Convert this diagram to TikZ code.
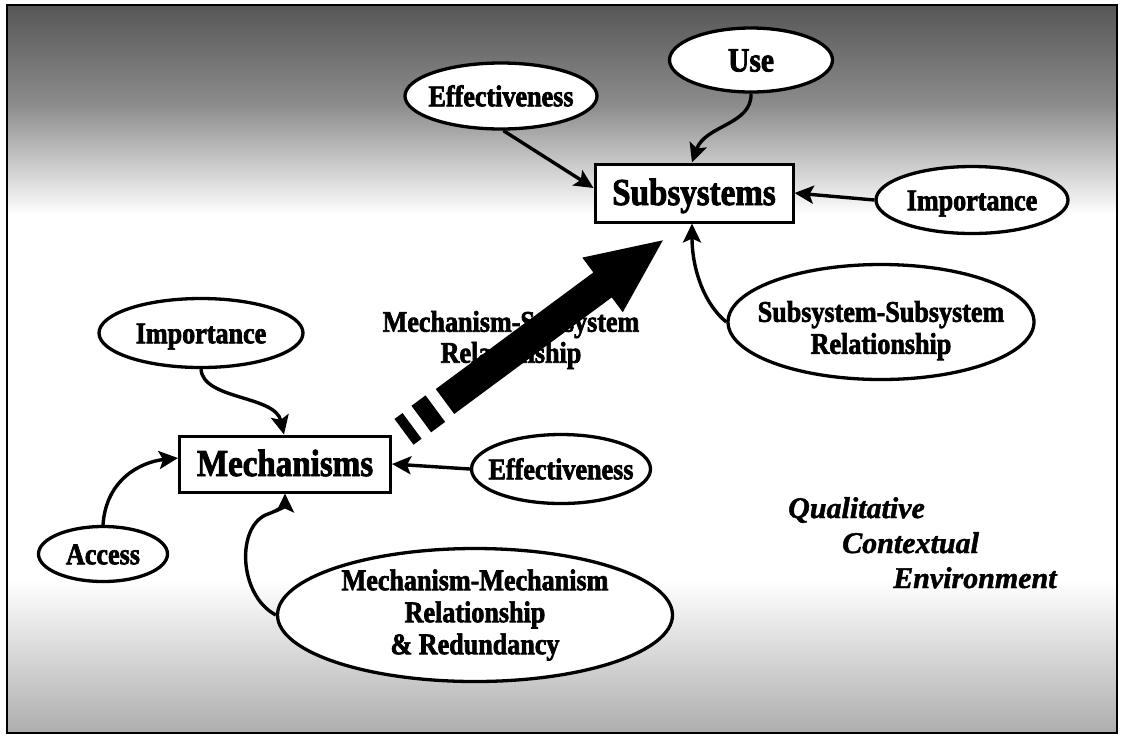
\documentclass[tikz,border=0pt]{standalone}
\usepackage{fontspec}
\setmainfont{Liberation Serif}
\newfontfamily\condfont{Liberation Serif}[FakeStretch=0.87, FakeBold=2.2]
\newfontfamily\ctxfont{Liberation Serif}[FakeBold=1.5]
\usetikzlibrary{arrows.meta,shapes.geometric}
\begin{document}
\begin{tikzpicture}[x=1pt,y=-1pt,
  oval/.style={ellipse, draw, line width=3.3pt, fill=white, inner xsep=-20pt, inner ysep=0pt,
    font=\condfont\bfseries\fontsize{30}{32}\selectfont, align=center},
  oneline/.style={text height=20.5pt, text depth=0pt},
  boxnode/.style={rectangle, draw, line width=3pt, fill=white, inner sep=0pt,
    font=\condfont\bfseries\fontsize{38}{40}\selectfont, text height=24pt, text depth=0pt},
  conn/.style={line width=3.4pt, -{Stealth[length=19pt,width=18pt,inset=4pt]}},
  ctx/.style={anchor=base west, inner sep=0pt, font=\ctxfont\bfseries\itshape\fontsize{30}{32}\selectfont}]
\useasboundingbox (0,0) rectangle (1123,740);
\fill[white] (0,0) rectangle (1123,740);
% scanned background tones
\fill[top color=black!66, bottom color=black!45] (7,5) rectangle (1117,105);
\fill[top color=black!45, bottom color=white] (7,105) rectangle (1117,215);
\fill[top color=white, bottom color=black!32] (7,580) rectangle (1117,733);
\draw[line width=2.4pt] (7,5) rectangle (1117,733);

% nodes
\node[oval, oneline, minimum width=192pt, minimum height=66pt] (effT) at (501,96) {Effectiveness};
\node[oval, oneline, minimum width=163pt, minimum height=64pt, font=\condfont\bfseries\fontsize{34}{36}\selectfont, text height=23pt] (use) at (751,60) {Use};
\node[boxnode, minimum width=198pt, minimum height=58pt] (subsys) at (694,193) {Subsystems};
\node[oval, oneline, minimum width=192pt, minimum height=67pt] (impR) at (972,200) {Importance};
\node[oval, minimum width=306pt, minimum height=115pt] (ssrel) at (881,322) {\rule{0pt}{38pt}Subsystem-Subsystem\\Relationship};
\node[oval, oneline, minimum width=204pt, minimum height=69pt] (impL) at (201,333) {Importance};
\node[boxnode, minimum width=211pt, minimum height=56pt] (mech) at (285,464) {Mechanisms};
\node[oval, oneline, minimum width=179pt, minimum height=69pt] (effR) at (561,469) {Effectiveness};
\node[oval, oneline, minimum width=129pt, minimum height=55pt] (access) at (103,554) {Access};
\node[oval, minimum width=395pt, minimum height=133pt] (mm) at (475,615) {Mechanism-Mechanism\\Relationship\\\&~Redundancy};

\node[ctx] (q1) at (788,518) {Qualitative};
\node[ctx] (q2) at (842,553) {Contextual};
\node[ctx] (q3) at (893,588) {Environment};

% label under the big arrow
\node[inner sep=0pt, align=center, font=\condfont\bfseries\fontsize{30}{31}\selectfont] (msrel) at (511,340) {Mechanism-Subsystem\\Relationship};

% big arrow
\coordinate (bigtail) at (445,401.5);
\begin{scope}[shift={(bigtail)}, rotate=36.5]
  \fill (0,-15.5) -- (196,-15.5) -- (196,-34) -- (271,0) -- (196,34) -- (196,15.5) -- (0,15.5) -- cycle;
  \fill (-29.5,-16.5) rectangle (-12,16.5);
  \fill (-51,-16) rectangle (-41,16);
\end{scope}

% connectors
\draw[conn] (effT.-86) -- ([yshift=5pt]subsys.west);
\draw[conn] (use.south) .. controls (752,125) and (705,125) .. ([xshift=-2pt]subsys.north);
\draw[conn] (impR.west) -- (subsys.east);
\draw[conn] (ssrel.west) .. controls (705,305) and (692,270) .. ([xshift=-2pt]subsys.south);
\draw[conn] (impL.south) .. controls (203,400) and (275,395) .. ([xshift=-1pt]mech.north);
\draw[conn] (access.north) .. controls (106,480) and (140,462) .. ([yshift=6pt]mech.west);
\draw[conn] (effR.west) -- (mech.east);
\draw[conn] (mm.west) .. controls (238,595) and (236,525) .. (268,514) .. controls (280,510) and (285,503) .. (mech.south);
\end{tikzpicture}
\end{document}
